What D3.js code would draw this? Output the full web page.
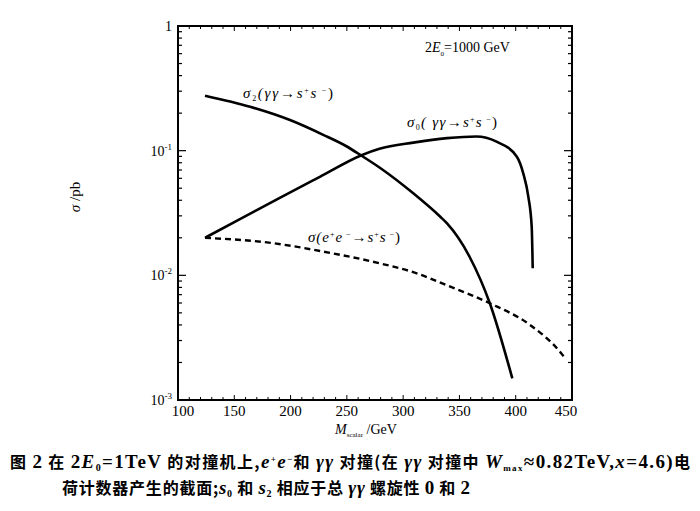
<!DOCTYPE html>
<html><head><meta charset="utf-8">
<script src="https://cdn.jsdelivr.net/npm/d3@7"></script>
<style>body{margin:0;background:#fff}</style>
</head><body>
<svg id="c" width="700" height="511"></svg>
<script>
// ---- data ----
const sigma2 = [[124,0.276],[164,0.225],[199.5,0.176],[229,0.134],[250,0.108],[263,0.0912],[279,0.0733],[309,0.0455],[333,0.0295],[339,0.0261],[359,0.0141],[377,0.00597],[397,0.00149]];
const sigma0 = [[124,0.020],[155,0.0282],[190,0.0417],[226,0.0617],[263,0.092],[279,0.1035],[309,0.116],[339,0.126],[365,0.130],[383,0.118],[401,0.0895],[406.7,0.0658],[411.2,0.0428],[414.2,0.0245],[415.1,0.0114]];
const sigmaEE = [[124,0.020],[184.7,0.0181],[229,0.0155],[279,0.0125],[309,0.0106],[339,0.0083],[377,0.00597],[412.7,0.0040],[439.3,0.00244],[443.8,0.00217]];
const xTicks = [100,150,200,250,300,350,400,450];
const yTicks = [1e-3,1e-2,1e-1,1];
const yTickLabels = [["10","-3"],["10","-2"],["10","-1"],["1",""]];

const svg = d3.select("#c");
const x = d3.scaleLinear().domain([100,450]).range([178,572]);
const y = d3.scaleLog().domain([1e-3,1]).range([400,26]);
const serif = "'Liberation Serif','DejaVu Serif',serif";

// frame
svg.append("rect").attr("x",178).attr("y",26).attr("width",394).attr("height",374)
  .attr("fill","none").attr("stroke","#000").attr("stroke-width",2);

// y ticks (inside, both sides)
const yMinor = [];
for (let d=-3; d<0; d++) for (let m=2; m<10; m++) yMinor.push(m*Math.pow(10,d));
const gy = svg.append("g").attr("stroke","#000").attr("stroke-width",1.2);
yTicks.forEach(v=>{
  gy.append("line").attr("x1",178).attr("x2",186).attr("y1",y(v)).attr("y2",y(v));
  gy.append("line").attr("x1",572).attr("x2",564).attr("y1",y(v)).attr("y2",y(v));
});
yMinor.forEach(v=>{
  gy.append("line").attr("x1",178).attr("x2",182).attr("y1",y(v)).attr("y2",y(v));
  gy.append("line").attr("x1",572).attr("x2",568).attr("y1",y(v)).attr("y2",y(v));
});
// x ticks (inside, top & bottom)
const gx = svg.append("g").attr("stroke","#000").attr("stroke-width",1);
d3.range(100,451,10).forEach(v=>{
  const L = (v%50===0)?5:3;
  gx.append("line").attr("x1",x(v)).attr("x2",x(v)).attr("y1",400).attr("y2",400-L);
  gx.append("line").attr("x1",x(v)).attr("x2",x(v)).attr("y1",26).attr("y2",26+L);
});

// x tick labels
svg.append("g").selectAll("text").data(xTicks).join("text")
  .attr("x",d=>x(d)+(d===100?5:d===450?-6:0)).attr("y",416).attr("text-anchor","middle")
  .attr("font-family",serif).attr("font-size",15).text(d=>d);

// y tick labels
yTicks.forEach((v,i)=>{
  const t = svg.append("text").attr("x",172).attr("y",y(v)+5).attr("text-anchor","end")
    .attr("font-family",serif).attr("font-size",14);
  t.append("tspan").text(yTickLabels[i][0]);
  if (yTickLabels[i][1]) t.append("tspan").attr("dy",-6).attr("font-size",9).text(yTickLabels[i][1]);
});

// axis titles
const xt = svg.append("text").attr("x",335).attr("y",434).attr("font-family",serif).attr("font-size",14);
xt.append("tspan").attr("font-style","italic").text("M");
xt.append("tspan").attr("dy",3).attr("font-size",7).text("scalar");
xt.append("tspan").attr("dy",-3).text(" /GeV");
svg.append("text").attr("transform","translate(80,197) rotate(-90)").attr("text-anchor","middle")
  .attr("font-family",serif).attr("font-size",15)
  .html('<tspan font-style="italic">σ</tspan> /pb');

// curves
const line = d3.line().x(d=>x(d[0])).y(d=>y(d[1])).curve(d3.curveMonotoneX);
svg.append("path").attr("d",line(sigma2)).attr("fill","none").attr("stroke","#000").attr("stroke-width",2.6);
svg.append("path").attr("d",line(sigma0)).attr("fill","none").attr("stroke","#000").attr("stroke-width",2.6);
svg.append("path").attr("d",line(sigmaEE)).attr("fill","none").attr("stroke","#000").attr("stroke-width",2.4)
  .attr("stroke-dasharray","6,4");

// in-plot labels
function lab(px,py,parts,fs,len){
  const t = svg.append("text").attr("x",px).attr("y",py).attr("font-family",serif).attr("font-size",fs||15);
  let cur=0;
  parts.forEach(p=>{
    const s=t.append("tspan").text(p.t);
    const sh = p.sh||0;
    s.attr("dy", sh-cur); cur=sh;
    if(p.i) s.attr("font-style","italic");
    if(p.s) s.attr("font-size",p.s);
  });
  if(len) t.attr("textLength",len).attr("lengthAdjust","spacing");
  return t;
}
lab(425,52,[{t:"2"},{t:"E",i:1},{t:"0",sh:4,s:7},{t:"=1000 GeV"}],14);
lab(243,98,[{t:"σ",i:1},{t:"2",sh:3,s:8},{t:"(γγ→s",i:1},{t:"+",sh:-5,s:8},{t:"s",i:1},{t:" −",sh:-5,s:8},{t:")"}],15,90);
lab(407,127,[{t:"σ",i:1},{t:"0",sh:3,s:8},{t:"( γγ→s",i:1},{t:"+",sh:-5,s:8},{t:"s",i:1},{t:" −",sh:-5,s:8},{t:")"}],15,90);
lab(308,242,[{t:"σ(e",i:1},{t:"+",sh:-5,s:8},{t:"e",i:1},{t:" −",sh:-5,s:8},{t:"→s",i:1},{t:"+",sh:-5,s:8},{t:"s",i:1},{t:" −",sh:-5,s:8},{t:")"}],15,92);

// caption
const cjk = "'Noto Sans CJK SC',sans-serif";
function cap(px,py,parts,len){
  const t = svg.append("text").attr("x",px).attr("y",py).attr("font-family",cjk).attr("font-size",16).attr("font-weight",700);
  let cur=0;
  parts.forEach(p=>{
    const s=t.append("tspan").text(p.t);
    const sh=p.sh||0; s.attr("dy",sh-cur); cur=sh;
    if(p.r) s.attr("font-family","'Liberation Serif',serif").attr("font-size",19);
    if(p.i) s.attr("font-style","italic");
    if(p.s) s.attr("font-size",p.s);
  });
  const w = t.node().getComputedTextLength();
  if (w < len) t.attr("textLength",len).attr("lengthAdjust","spacing");
  else t.attr("textLength",len).attr("lengthAdjust","spacingAndGlyphs");
}
cap(10,468,[{t:"图 "},{t:"2",r:1},{t:" 在 "},{t:"2",r:1},{t:"E",r:1,i:1},{t:"0",r:1,sh:3,s:10},{t:"=1TeV",r:1},{t:" 的对撞机上,"},
  {t:"e",r:1,i:1},{t:"+",r:1,sh:-6,s:9},{t:"e",r:1,i:1},{t:"−",r:1,sh:-6,s:9},{t:"和 "},{t:"γγ",r:1,i:1},{t:" 对撞(在 "},{t:"γγ",r:1,i:1},
  {t:" 对撞中 "},{t:"W",r:1,i:1},{t:"max",r:1,sh:3,s:9},{t:"≈0.82TeV,",r:1},{t:"x",r:1,i:1},{t:"=4.6)",r:1},{t:"电"}],680);
cap(62,494,[{t:"荷计数器产生的截面;"},{t:"s",r:1,i:1},{t:"0",r:1,sh:3,s:10},{t:" 和 "},{t:"s",r:1,i:1},{t:"2",r:1,sh:3,s:10},
  {t:" 相应于总 "},{t:"γγ",r:1,i:1},{t:" 螺旋性 "},{t:"0",r:1},{t:" 和 "},{t:"2",r:1}],408);
</script>
</body></html>
